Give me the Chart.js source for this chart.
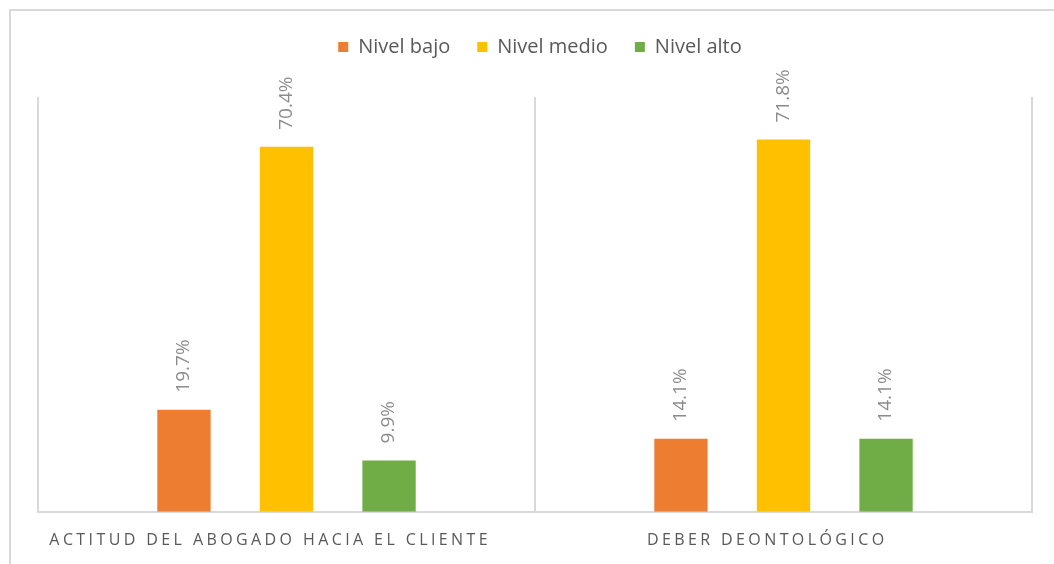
<!DOCTYPE html>
<html lang="es">
<head>
    <meta charset="UTF-8">
    <title>Niveles por dimensión</title>
    <script src="https://cdn.jsdelivr.net/npm/chart.js"></script>
    <style>
        * {
            margin: 0;
            padding: 0;
            box-sizing: border-box;
        }

        body {
            width: 1054px;
            height: 564px;
            overflow: hidden;
            background: #fff;
            position: relative;
        }

        .frame {
            position: absolute;
            left: 9px;
            top: 9px;
            width: 1200px;
            height: 700px;
            border: 2px solid #d9d9d9;
        }

        .chart-box {
            position: absolute;
            left: 0;
            top: 0;
            width: 1054px;
            height: 569px;
        }
    </style>
</head>
<body>
    <div class="frame"></div>
    <div class="chart-box">
        <canvas id="levelChart"></canvas>
    </div>

    <script>
        const categories = ['ACTITUD DEL ABOGADO HACIA EL CLIENTE', 'DEBER DEONTOLÓGICO'];
        const seriesNames = ['Nivel bajo', 'Nivel medio', 'Nivel alto'];
        const seriesColors = ['#ed7d31', '#ffc000', '#70ad47'];
        const nivelBajo = [19.7, 14.1];
        const nivelMedio = [70.4, 71.8];
        const nivelAlto = [9.9, 14.1];

        const LETTER_GAP = 3.4;

        // spaced caps on the x labels: fillText is wrapped so the category
        // names are drawn letter by letter
        const spacingPlugin = {
            id: 'spacing',
            beforeDraw(chart) {
                const ctx = chart.ctx;
                const orig = CanvasRenderingContext2D.prototype.fillText;
                ctx.fillText = function (text, x, y) {
                    if (!categories.includes(text)) {
                        return orig.apply(this, arguments);
                    }
                    const chars = [...text];
                    const widths = chars.map(c => this.measureText(c).width);
                    const total = widths.reduce((a, b) => a + b, 0) + LETTER_GAP * (chars.length - 1);
                    const align = this.textAlign;
                    let cx = x;
                    if (align === 'center') cx = x - total / 2;
                    else if (align === 'right' || align === 'end') cx = x - total;
                    this.textAlign = 'left';
                    chars.forEach((c, k) => {
                        orig.call(this, c, cx, y);
                        cx += widths[k] + LETTER_GAP;
                    });
                    this.textAlign = align;
                };
            },
            afterDraw(chart) {
                delete chart.ctx.fillText;
            }
        };

        // extra gap under the legend, and nudge it a bit to the right
        const legendGap = {
            id: 'legendGap',
            beforeInit(chart) {
                const legend = chart.legend;
                const fit = legend.fit;
                legend.fit = function () {
                    fit.bind(legend)();
                    this.height += 30;
                };
                const draw = legend.draw;
                legend.draw = function () {
                    chart.ctx.save();
                    chart.ctx.translate(5, 0);
                    draw.bind(legend)();
                    chart.ctx.restore();
                };
            }
        };

        // vertical value labels above bars
        const barLabels = {
            id: 'barLabels',
            afterDraw(chart) {
                const ctx = chart.ctx;
                ctx.save();
                ctx.font = '19px "Open Sans"';
                ctx.fillStyle = '#8c8c8c';
                ctx.textAlign = 'left';
                ctx.textBaseline = 'middle';
                chart.data.datasets.forEach((ds, i) => {
                    chart.getDatasetMeta(i).data.forEach((bar, j) => {
                        ctx.save();
                        ctx.translate(bar.x, bar.y - 17);
                        ctx.rotate(-Math.PI / 2);
                        ctx.fillText(ds.data[j].toFixed(1) + '%', 0, 0);
                        ctx.restore();
                    });
                });
                ctx.restore();
            }
        };

        const values = [nivelBajo, nivelMedio, nivelAlto];

        new Chart(document.getElementById('levelChart'), {
            type: 'bar',
            data: {
                labels: categories,
                datasets: seriesNames.map((name, i) => ({
                    label: name,
                    data: values[i],
                    backgroundColor: seriesColors[i],
                    categoryPercentage: 0.619,
                    barPercentage: 0.52
                }))
            },
            options: {
                responsive: true,
                maintainAspectRatio: false,
                animation: false,
                layout: {
                    padding: { top: 10, left: 38, right: 22, bottom: 0 }
                },
                plugins: {
                    legend: {
                        labels: {
                            boxWidth: 10,
                            boxHeight: 10,
                            padding: 27,
                            color: '#595959',
                            font: { family: '"Open Sans"', size: 20 }
                        }
                    },
                    tooltip: { enabled: false }
                },
                scales: {
                    x: {
                        grid: {
                            offset: true,
                            drawTicks: false,
                            color: '#d9d9d9',
                            lineWidth: 2
                        },
                        border: { color: '#d9d9d9', width: 2 },
                        ticks: {
                            color: '#595959',
                            padding: 19,
                            labelOffset: -18,
                            maxRotation: 0,
                            font: { family: '"Open Sans"', size: 16 }
                        }
                    },
                    y: {
                        display: false,
                        min: 0,
                        max: 80
                    }
                }
            },
            plugins: [spacingPlugin, legendGap, barLabels]
        });
    </script>
</body>
</html>
